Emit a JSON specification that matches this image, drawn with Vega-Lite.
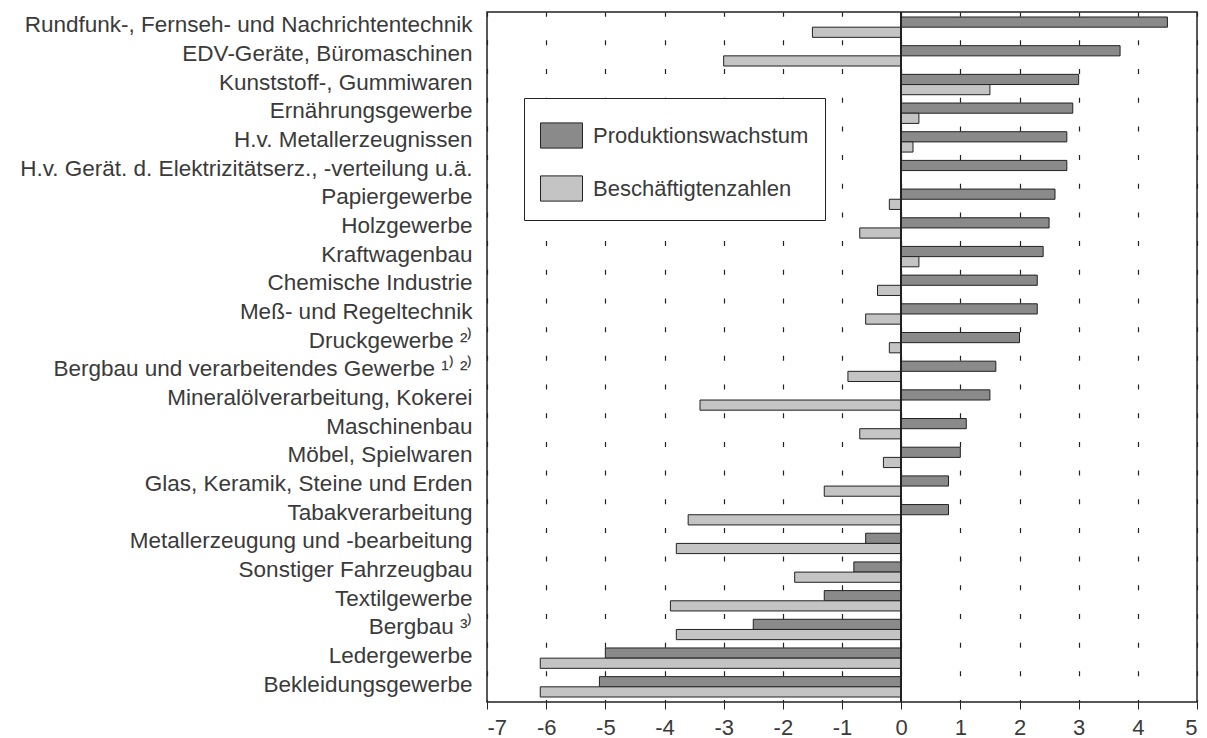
{
  "$schema": "https://vega.github.io/schema/vega-lite/v6.json",
  "width": 710,
  "height": 690,
  "autosize": {"type": "none"},
  "padding": {"left": 487, "top": 12, "right": 10, "bottom": 36},
  "background": "white",
  "config": {
    "font": "Liberation Sans",
    "view": {"stroke": "#222", "strokeWidth": 1.5}
  },
  "datasets": {
    "rows": [
      {"cat": "Rundfunk-, Fernseh- und Nachrichtentechnik", "series": "Produktionswachstum", "value": 4.5},
      {"cat": "Rundfunk-, Fernseh- und Nachrichtentechnik", "series": "Beschäftigtenzahlen", "value": -1.5},
      {"cat": "EDV-Geräte, Büromaschinen", "series": "Produktionswachstum", "value": 3.7},
      {"cat": "EDV-Geräte, Büromaschinen", "series": "Beschäftigtenzahlen", "value": -3.0},
      {"cat": "Kunststoff-, Gummiwaren", "series": "Produktionswachstum", "value": 3.0},
      {"cat": "Kunststoff-, Gummiwaren", "series": "Beschäftigtenzahlen", "value": 1.5},
      {"cat": "Ernährungsgewerbe", "series": "Produktionswachstum", "value": 2.9},
      {"cat": "Ernährungsgewerbe", "series": "Beschäftigtenzahlen", "value": 0.3},
      {"cat": "H.v. Metallerzeugnissen", "series": "Produktionswachstum", "value": 2.8},
      {"cat": "H.v. Metallerzeugnissen", "series": "Beschäftigtenzahlen", "value": 0.2},
      {"cat": "H.v. Gerät. d. Elektrizitätserz., -verteilung u.ä.", "series": "Produktionswachstum", "value": 2.8},
      {"cat": "H.v. Gerät. d. Elektrizitätserz., -verteilung u.ä.", "series": "Beschäftigtenzahlen", "value": 0.0},
      {"cat": "Papiergewerbe", "series": "Produktionswachstum", "value": 2.6},
      {"cat": "Papiergewerbe", "series": "Beschäftigtenzahlen", "value": -0.2},
      {"cat": "Holzgewerbe", "series": "Produktionswachstum", "value": 2.5},
      {"cat": "Holzgewerbe", "series": "Beschäftigtenzahlen", "value": -0.7},
      {"cat": "Kraftwagenbau", "series": "Produktionswachstum", "value": 2.4},
      {"cat": "Kraftwagenbau", "series": "Beschäftigtenzahlen", "value": 0.3},
      {"cat": "Chemische Industrie", "series": "Produktionswachstum", "value": 2.3},
      {"cat": "Chemische Industrie", "series": "Beschäftigtenzahlen", "value": -0.4},
      {"cat": "Meß- und Regeltechnik", "series": "Produktionswachstum", "value": 2.3},
      {"cat": "Meß- und Regeltechnik", "series": "Beschäftigtenzahlen", "value": -0.6},
      {"cat": "Druckgewerbe ²⁾", "series": "Produktionswachstum", "value": 2.0},
      {"cat": "Druckgewerbe ²⁾", "series": "Beschäftigtenzahlen", "value": -0.2},
      {"cat": "Bergbau und verarbeitendes Gewerbe ¹⁾ ²⁾", "series": "Produktionswachstum", "value": 1.6},
      {"cat": "Bergbau und verarbeitendes Gewerbe ¹⁾ ²⁾", "series": "Beschäftigtenzahlen", "value": -0.9},
      {"cat": "Mineralölverarbeitung, Kokerei", "series": "Produktionswachstum", "value": 1.5},
      {"cat": "Mineralölverarbeitung, Kokerei", "series": "Beschäftigtenzahlen", "value": -3.4},
      {"cat": "Maschinenbau", "series": "Produktionswachstum", "value": 1.1},
      {"cat": "Maschinenbau", "series": "Beschäftigtenzahlen", "value": -0.7},
      {"cat": "Möbel, Spielwaren", "series": "Produktionswachstum", "value": 1.0},
      {"cat": "Möbel, Spielwaren", "series": "Beschäftigtenzahlen", "value": -0.3},
      {"cat": "Glas, Keramik, Steine und Erden", "series": "Produktionswachstum", "value": 0.8},
      {"cat": "Glas, Keramik, Steine und Erden", "series": "Beschäftigtenzahlen", "value": -1.3},
      {"cat": "Tabakverarbeitung", "series": "Produktionswachstum", "value": 0.8},
      {"cat": "Tabakverarbeitung", "series": "Beschäftigtenzahlen", "value": -3.6},
      {"cat": "Metallerzeugung und -bearbeitung", "series": "Produktionswachstum", "value": -0.6},
      {"cat": "Metallerzeugung und -bearbeitung", "series": "Beschäftigtenzahlen", "value": -3.8},
      {"cat": "Sonstiger Fahrzeugbau", "series": "Produktionswachstum", "value": -0.8},
      {"cat": "Sonstiger Fahrzeugbau", "series": "Beschäftigtenzahlen", "value": -1.8},
      {"cat": "Textilgewerbe", "series": "Produktionswachstum", "value": -1.3},
      {"cat": "Textilgewerbe", "series": "Beschäftigtenzahlen", "value": -3.9},
      {"cat": "Bergbau ³⁾", "series": "Produktionswachstum", "value": -2.5},
      {"cat": "Bergbau ³⁾", "series": "Beschäftigtenzahlen", "value": -3.8},
      {"cat": "Ledergewerbe", "series": "Produktionswachstum", "value": -5.0},
      {"cat": "Ledergewerbe", "series": "Beschäftigtenzahlen", "value": -6.1},
      {"cat": "Bekleidungsgewerbe", "series": "Produktionswachstum", "value": -5.1},
      {"cat": "Bekleidungsgewerbe", "series": "Beschäftigtenzahlen", "value": -6.1}
    ]
  },
  "data": {"name": "rows"},
  "layer": [
    {
      "mark": {"type": "bar", "stroke": "#222", "strokeWidth": 1},
      "encoding": {
        "y": {
          "field": "cat",
          "type": "nominal",
          "sort": null,
          "scale": {"paddingInner": 0.29, "paddingOuter": 0.174},
          "axis": {
            "title": null,
            "ticks": false,
            "domain": false,
            "labelFontSize": 22.5,
            "labelColor": "#3a3a3a",
            "labelPadding": 15,
            "labelLimit": 600,
            "labelOffset": -2
          }
        },
        "yOffset": {
          "field": "series",
          "type": "nominal",
          "sort": ["Produktionswachstum", "Beschäftigtenzahlen"]
        },
        "x": {
          "field": "value",
          "type": "quantitative",
          "scale": {"domain": [-7, 5], "nice": false, "zero": false},
          "axis": {
            "title": null,
            "values": [-7, -6, -5, -4, -3, -2, -1, 0, 1, 2, 3, 4, 5],
            "labelExpr": "datum.value < 0 ? '-' + abs(datum.value) : '' + datum.value",
            "labelFontSize": 22,
            "labelColor": "#3a3a3a",
            "labelPadding": 8,
            "tickSize": 7,
            "tickColor": "#222",
            "domain": false,
            "grid": true,
            "gridColor": "#222",
            "gridWidth": 1.2,
            "gridDash": [5, 23.68],
            "gridDashOffset": 2.5
          }
        },
        "fill": {
          "field": "series",
          "type": "nominal",
          "sort": ["Produktionswachstum", "Beschäftigtenzahlen"],
          "scale": {
            "domain": ["Produktionswachstum", "Beschäftigtenzahlen"],
            "range": ["#8a8a8a", "#c4c4c4"]
          },
          "legend": {
            "title": null,
            "orient": "none",
            "legendX": 37,
            "legendY": 86,
            "padding": 16,
            "rowPadding": 16,
            "symbolType": "M-1,-0.6H1V0.6H-1Z",
            "symbolSize": 1764,
            "symbolStrokeColor": "#222",
            "symbolStrokeWidth": 1,
            "labelFontSize": 22,
            "labelColor": "#3a3a3a",
            "labelOffset": 10,
            "labelLimit": 400,
            "strokeColor": "#222",
            "fillColor": "white"
          }
        }
      }
    },
    {
      "mark": {"type": "rule", "color": "#222", "strokeWidth": 1.2},
      "encoding": {"x": {"datum": 0}}
    }
  ]
}
